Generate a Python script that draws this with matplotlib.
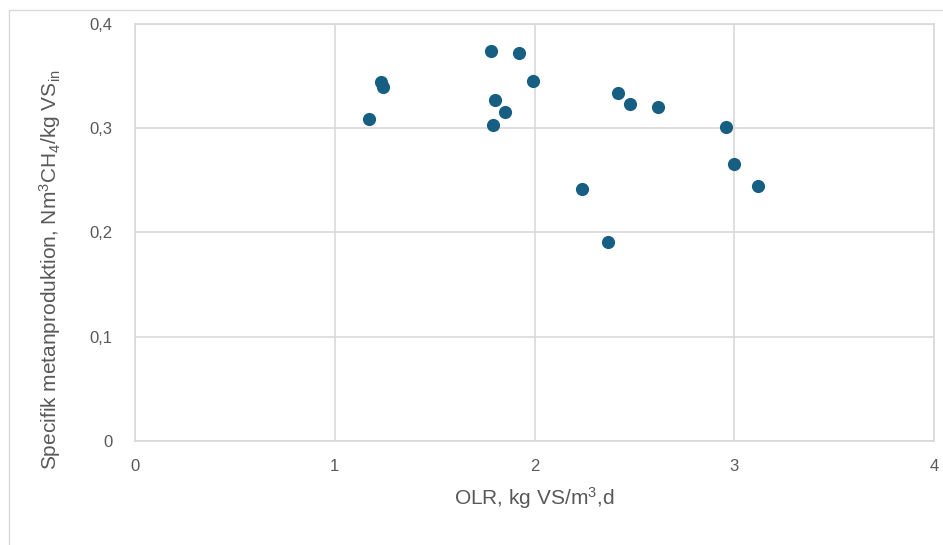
import matplotlib
matplotlib.use("Agg")
import matplotlib.pyplot as plt
from matplotlib.patches import Rectangle
from matplotlib.ticker import FuncFormatter

# OLR (kg VS/m3,d) and specific methane production (Nm3 CH4/kg VS_in)
olr = [1.17, 1.23, 1.24, 1.78, 1.92, 1.99, 1.80, 1.85, 1.79,
       2.24, 2.37, 2.42, 2.48, 2.62, 2.96, 3.00, 3.12]
methane = [0.309, 0.344, 0.340, 0.374, 0.372, 0.345, 0.327, 0.316, 0.303,
           0.242, 0.191, 0.334, 0.323, 0.320, 0.301, 0.266, 0.245]

x_ticks = [0, 1, 2, 3, 4]
y_ticks = [0, 0.1, 0.2, 0.3, 0.4]

plt.rcParams["font.family"] = ["Liberation Sans", "DejaVu Sans"]
plt.rcParams["mathtext.default"] = "regular"

fig = plt.figure(figsize=(9.43, 5.45), dpi=100)
ax = fig.add_axes([0.1432, 0.1908, 0.8473, 0.7652])

# light frame around the chart area
fig.patches.append(Rectangle((9 / 943, -0.1), 1.2, 1 - 10 / 545 + 0.1,
                             transform=fig.transFigure, fill=False,
                             edgecolor="#d9d9d9", linewidth=1.0))

ax.scatter(olr, methane, s=90, color="#175f82", zorder=3, linewidths=0)

ax.set_xlim(0, 4)
ax.set_ylim(0, 0.4)
ax.set_xticks(x_ticks)
ax.set_yticks(y_ticks)
ax.xaxis.set_major_formatter(FuncFormatter(lambda v, p: f"{v:g}".replace(".", ",")))
ax.yaxis.set_major_formatter(FuncFormatter(lambda v, p: f"{v:g}".replace(".", ",")))
ax.tick_params(axis="both", length=0, labelsize=12, labelcolor="#595959")
ax.tick_params(axis="y", pad=16)
ax.tick_params(axis="x", pad=13)

ax.grid(True, color="#d9d9d9", linewidth=1.2, zorder=0)
for s in ax.spines.values():
    s.set_color("#d9d9d9")
    s.set_linewidth(1.2)

ax.set_xlabel("OLR, kg VS/m$^3$,d", fontsize=15, color="#595959", labelpad=8)
ax.set_ylabel("Specifik metanproduktion, Nm$^3$CH$_4$/kg VS$_{in}$",
              fontsize=15, color="#595959")
ax.yaxis.set_label_coords(-0.09, 0.41)

fig.savefig("out.png", dpi=100)
